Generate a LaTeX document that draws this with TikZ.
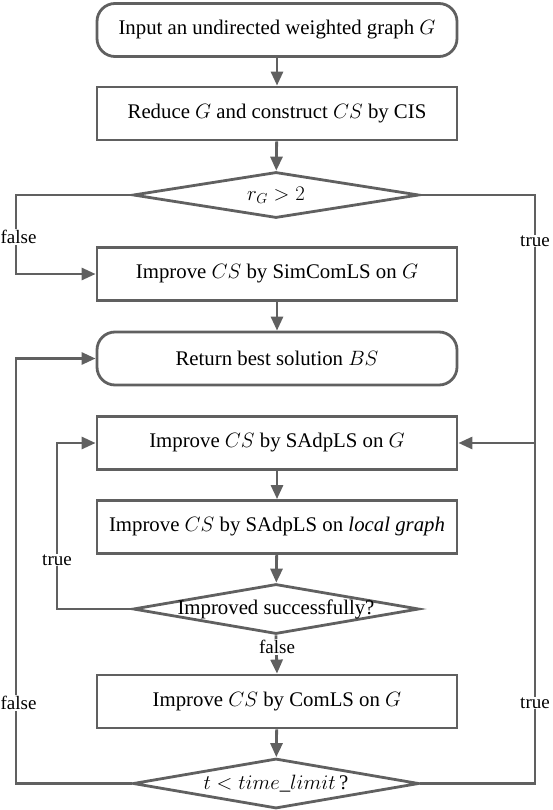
\documentclass[tikz,border=0pt]{standalone}
\usepackage{fontspec}
\setmainfont{Liberation Serif}
\usetikzlibrary{arrows.meta,shapes.geometric}
\definecolor{lc}{RGB}{96,96,96}
\begin{document}
\begin{tikzpicture}[x=1pt,y=-1pt,
  txt/.style={font=\fontsize{20.8}{24}\selectfont},
  box/.style={txt,draw=lc,line width=2.8pt,minimum width=360pt,minimum height=53pt,inner sep=0pt},
  rbox/.style={box,rounded corners=18pt},
  dia/.style={txt,draw=lc,line width=2.8pt,shape=diamond,minimum width=286pt,minimum height=50pt,inner sep=0pt},
  lab/.style={font=\fontsize{19}{22}\selectfont,fill=white,inner sep=1pt},
  line/.style={draw=lc,line width=2.8pt},
  arr/.style={line,-{Triangle[length=14pt,width=12pt]}}
]
\useasboundingbox (0,0) rectangle (552,810);

\node[rbox] (n1) at (277,30) {Input an undirected weighted graph $G$};
\node[box]  (n2) at (277,113.5) {Reduce $G$ and construct $CS$ by CIS};
\node[dia,minimum height=46pt] (d1) at (276,195) {\makebox[0pt]{$r_G>2$}};
\node[box]  (n3) at (277,274) {Improve $CS$ by SimComLS on $G$};
\node[rbox] (n4) at (277,358.5) {Return best solution $BS$};
\node[box]  (n5) at (277,443) {Improve $CS$ by SAdpLS on $G$};
\node[box]  (n6) at (277,527) {Improve $CS$ by SAdpLS on \textit{local graph}};
\node[dia]  (d2) at (276,609) {\makebox[0pt]{Improved successfully?}};
\node[box]  (n7) at (277,701.5) {Improve $CS$ by ComLS on $G$};
\node[dia]  (d3) at (276,783.5) {\makebox[0pt]{$t<time\_limit$\,?}};

\coordinate (xL) at (16,0);
\coordinate (xM) at (57,0);
\coordinate (xR) at (535,0);

\draw[arr] (n1) -- (n2);
\draw[arr] (n2) -- (d1);
\draw[arr] (d1.west) -| (xL |- n3.west) -- (n3.west);
\draw[arr] (d1.east) -| (xR |- n5.east) -- (n5.east);
\draw[arr] (n3) -- (n4);
\draw[arr] (n5) -- (n6);
\draw[arr] (n6) -- (d2);
\draw[arr] (d2.west) -| (xM |- n5.west) -- (n5.west);
\draw[arr] (d2.south) -- (n7.north);
\draw[arr] (n7) -- (d3);
\draw[arr] (d3.west) -| (xL |- n4.west) -- (n4.west);
\draw[line] (d3.east) -| (xR |- n5.east);

\node[lab] (l1) at (18.5,237) {false};
\node[lab] (l2) at (535,241) {true};
\node[lab] (l3) at (57,560) {true};
\node[lab] (l4) at (277,647) {false};
\node[lab] (l5) at (18.5,703) {false};
\node[lab] (l6) at (535,703) {true};
\end{tikzpicture}
\end{document}
